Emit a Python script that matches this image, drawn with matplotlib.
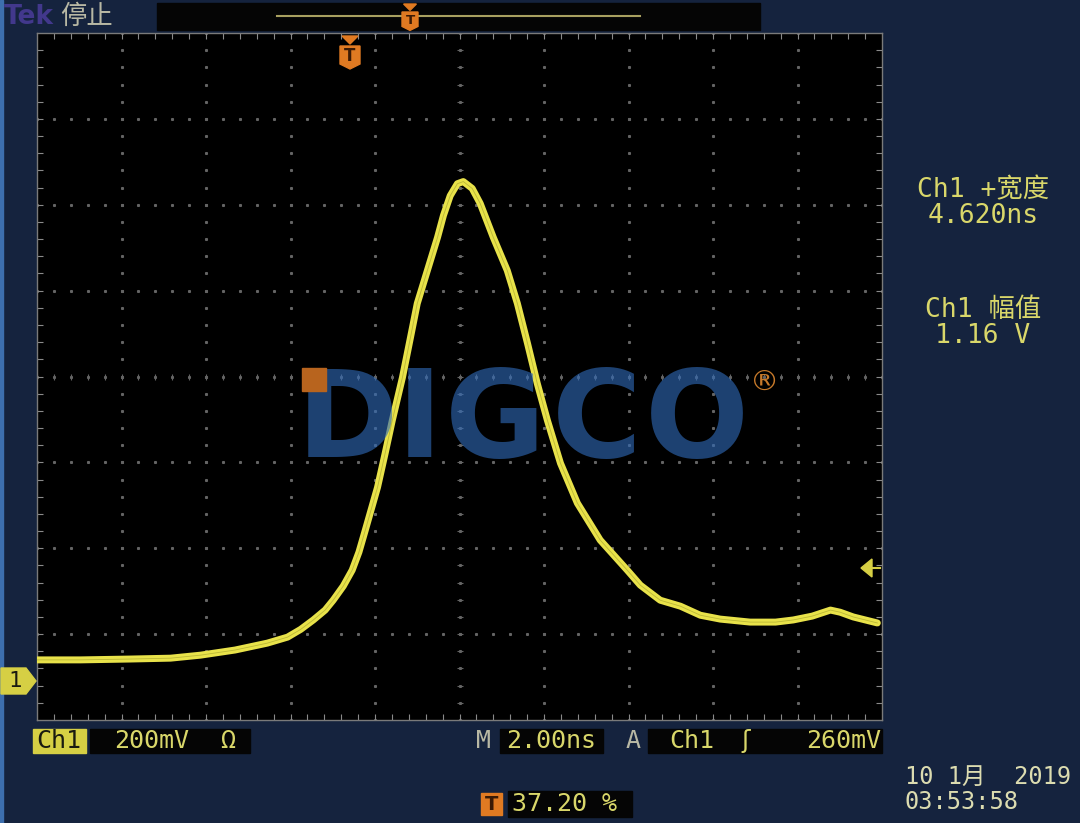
import numpy as np
import matplotlib
matplotlib.use("Agg")
import matplotlib.pyplot as plt
from matplotlib.patches import Rectangle, Polygon

plt.rcParams['font.family'] = ['DejaVu Sans', 'Noto Sans CJK SC']
MONO = ['DejaVu Sans Mono', 'Noto Sans CJK SC']

# trace: time (ns, trigger = 0), voltage (mV)
t_ns = [-7.43, -6.41, -5.23, -4.28, -3.57, -2.75, -1.99, -1.51, -1.20, -0.90,
        -0.62, -0.43, -0.19, 0.02, 0.18, 0.33, 0.62, 0.80, 0.97, 1.21,
        1.40, 1.56, 1.80, 2.04, 2.18, 2.34, 2.51, 2.65, 2.86, 3.05,
        3.36, 3.69, 3.93, 4.17, 4.40, 4.64, 4.95, 5.35, 5.89, 6.53,
        6.84, 7.31, 7.79, 8.26, 8.73, 9.44, 10.04, 10.46, 10.91, 11.34,
        11.57, 11.88, 12.45]
v_mv = [49, 49, 51, 53, 60, 72, 88, 102, 120, 142,
        165, 188, 221, 258, 300, 351, 451, 530, 607, 707,
        800, 879, 956, 1033, 1084, 1130, 1158, 1163, 1147, 1112,
        1033, 956, 879, 786, 693, 607, 507, 414, 328, 258,
        223, 188, 174, 153, 144, 137, 137, 142, 151, 165,
        160, 149, 135]

volts_per_div = 200      # mV
time_per_div = 2.0       # ns
trig_pos = 0.372
trig_level = 260
ground_off = -91         # mV at bottom edge

meas_labels = ["Ch1 +宽度", "Ch1 幅值"]
meas_values = ["4.620ns", "1.16 V"]

W, H = 1080, 823
navy = '#15233e'
yel = '#d9d76a'
orange = '#e07a22'

fig = plt.figure(figsize=(W / 100, H / 100), dpi=100, facecolor=navy)


def fx(x):
    return x / W


def fy(y):
    return 1 - y / H


# left light border strip
fig.patches.append(Rectangle((0, 0), fx(3), 1, transform=fig.transFigure,
                             color='#3d6fae', zorder=0))

ax = fig.add_axes([fx(37), fy(720), fx(845), (720 - 33) / H])
ax.set_facecolor('black')
x0 = -trig_pos * 10 * time_per_div
xlim = (x0, x0 + 10 * time_per_div)
ylim = (ground_off, ground_off + 8 * volts_per_div)
ax.set_xlim(*xlim)
ax.set_ylim(*ylim)

# graticule
xs_div = np.linspace(xlim[0], xlim[1], 11)
ys_div = np.linspace(ylim[0], ylim[1], 9)
xs_fine = np.linspace(xlim[0], xlim[1], 51)
ys_fine = np.linspace(ylim[0], ylim[1], 41)
gcol = '#646464'
for xv in xs_div[1:-1]:
    ax.plot(np.full_like(ys_fine, xv), ys_fine, ls='none', marker='s',
            ms=1.2, color=gcol, zorder=1)
for yv in ys_div[1:-1]:
    ax.plot(xs_fine, np.full_like(xs_fine, yv), ls='none', marker='s',
            ms=1.2, color=gcol, zorder=1)
# center crosshair ticks
xc = xs_div[5]
yc = ys_div[4]
ax.plot(xs_fine, np.full_like(xs_fine, yc), ls='none', marker='|', ms=5,
        mew=0.8, color=gcol, zorder=1)
ax.plot(np.full_like(ys_fine, xc), ys_fine, ls='none', marker='_', ms=5,
        mew=0.8, color=gcol, zorder=1)

ax.set_xticks(xs_fine[1:-1])
ax.set_yticks(ys_fine[1:-1])
ax.tick_params(which='both', direction='in', length=4, width=0.8,
               color='#8a8a8a', top=True, right=True,
               labelbottom=False, labelleft=False)
for s in ax.spines.values():
    s.set_color('#7a7a7a')
    s.set_linewidth(1.0)

# trace
ax.plot(t_ns, v_mv, color='#e8e24a', lw=5, solid_joinstyle='round',
        solid_capstyle='round', zorder=3)
ax.plot(t_ns, v_mv, color='#9c9a2a', lw=0.6, alpha=0.6, zorder=4)

# watermark
for ch, cx in zip("DIGCO", [347, 420, 495, 597, 697]):
    fig.text(fx(cx), fy(457), ch, fontsize=88, fontweight='bold',
             color='#2f6ab8', alpha=0.62, ha='center', va='baseline',
             zorder=5)
fig.patches.append(Rectangle((fx(302), fy(391)), fx(24), 23 / H,
                             transform=fig.transFigure, color='#b8641e',
                             zorder=6))
fig.text(fx(765), fy(383), "®", fontsize=21, color='#c87a2a', ha='center',
         va='center', zorder=6)

# top bar
fig.text(fx(4), fy(17), "Tek", fontsize=19, fontweight='bold',
         color='#42388c', ha='left', va='center')
fig.text(fx(60), fy(17), "停止", fontsize=19, color='#b8b8a4', ha='left',
         va='center')
fig.patches.append(Rectangle((fx(157), fy(30)), fx(603), 27 / H,
                             transform=fig.transFigure, color='#050505',
                             zorder=1))
fig.lines.append(plt.Line2D([fx(277), fx(640)], [fy(16), fy(16)],
                            transform=fig.transFigure, color='#a8a060',
                            lw=1.5))


def t_marker(cx, ytop, scale=1.0):
    # small orange trigger-position marker
    w = 10 * scale
    tri = Polygon([(fx(cx - 8 * scale), fy(ytop)), (fx(cx + 8 * scale), fy(ytop)),
                   (fx(cx), fy(ytop + 8 * scale))], closed=True,
                  transform=fig.transFigure, color=orange, zorder=7)
    fig.patches.append(tri)
    body = Polygon([(fx(cx - w), fy(ytop + 10 * scale)),
                    (fx(cx + w), fy(ytop + 10 * scale)),
                    (fx(cx + w), fy(ytop + 28 * scale)),
                    (fx(cx), fy(ytop + 33 * scale)),
                    (fx(cx - w), fy(ytop + 28 * scale))], closed=True,
                   transform=fig.transFigure, color=orange, zorder=7)
    fig.patches.append(body)
    fig.text(fx(cx), fy(ytop + 20 * scale), "T", fontsize=12 * scale,
             fontweight='bold', color='#3a1a05', ha='center', va='center',
             zorder=8)


t_marker(410, 4, 0.8)
t_marker(350, 36, 1.0)

# measurement readouts
for i in range(2):
    ybase = 190 + i * 120
    fig.text(fx(983), fy(ybase), meas_labels[i], fontsize=19, color=yel,
             ha='center', va='center', family=MONO)
    fig.text(fx(983), fy(ybase + 26), meas_values[i], fontsize=19, color=yel,
             ha='center', va='center', family=MONO)

# channel ground marker
gy = 681
fig.patches.append(Polygon([(fx(1), fy(gy - 13)), (fx(26), fy(gy - 13)),
                            (fx(36), fy(gy)), (fx(26), fy(gy + 13)),
                            (fx(1), fy(gy + 13))], closed=True,
                           transform=fig.transFigure, color='#d6cf44',
                           zorder=7))
fig.text(fx(15), fy(gy), "1", fontsize=16, color='#1a1a10', ha='center',
         va='center', zorder=8, family=MONO)

# trigger level arrow (right side)
ty = 568
fig.patches.append(Polygon([(fx(861), fy(ty)), (fx(872), fy(ty - 9)),
                            (fx(872), fy(ty + 9))], closed=True,
                           transform=fig.transFigure, color='#d6cf44',
                           zorder=7))
fig.lines.append(plt.Line2D([fx(870), fx(880)], [fy(ty), fy(ty)],
                            transform=fig.transFigure, color='#d6cf44',
                            lw=1.5, zorder=7))

# bottom readouts


def box(x, y, w, h, color):
    fig.patches.append(Rectangle((fx(x), fy(y + h)), fx(w), h / H,
                                 transform=fig.transFigure, color=color,
                                 zorder=2))


box(33, 729, 53, 24, '#d6cf44')
fig.text(fx(59), fy(741), "Ch1", fontsize=18, color='#1a1a10', ha='center',
         va='center', zorder=3, family=MONO)
box(90, 729, 160, 24, '#050505')
fig.text(fx(114), fy(741), "200mV", fontsize=18, color=yel, ha='left',
         va='center', zorder=3, family=MONO)
fig.text(fx(228), fy(741), "Ω", fontsize=18, color=yel, ha='center',
         va='center', zorder=3, family=MONO)

fig.text(fx(476), fy(741), "M", fontsize=18, color='#b8b8a4', ha='left',
         va='center', family=MONO)
box(500, 729, 103, 24, '#050505')
fig.text(fx(506), fy(741), "2.00ns", fontsize=18, color=yel, ha='left',
         va='center', zorder=3, family=MONO)

fig.text(fx(626), fy(741), "A", fontsize=18, color='#b8b8a4', ha='left',
         va='center', family=MONO)
box(648, 729, 234, 24, '#050505')
fig.text(fx(669), fy(741), "Ch1", fontsize=18, color=yel, ha='left',
         va='center', zorder=3, family=MONO)
fig.text(fx(746), fy(741), "ʃ", fontsize=18, color=yel, ha='center',
         va='center', zorder=3)
fig.text(fx(881), fy(741), "%dmV" % trig_level, fontsize=18, color=yel,
         ha='right', va='center', zorder=3, family=MONO)

box(481, 793, 21, 22, orange)
fig.text(fx(491.5), fy(804), "T", fontsize=14, fontweight='bold',
         color='#3a1a05', ha='center', va='center', zorder=3)
box(508, 791, 124, 26, '#050505')
fig.text(fx(512), fy(804), "%.2f %%" % (trig_pos * 100), fontsize=18,
         color=yel, ha='left', va='center', zorder=3, family=MONO)

fig.text(fx(905), fy(777), "10 1月  2019", fontsize=17, color='#dcdcb0',
         ha='left', va='center', family=MONO)
fig.text(fx(905), fy(802), "03:53:58", fontsize=17, color='#dcdcb0',
         ha='left', va='center', family=MONO)

fig.savefig("out.png", dpi=100, facecolor=navy)
